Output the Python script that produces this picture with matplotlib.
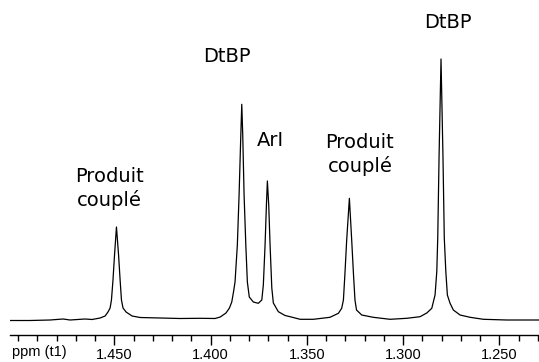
import matplotlib
matplotlib.use("Agg")
import matplotlib.pyplot as plt
from matplotlib.ticker import MultipleLocator, FixedLocator

# Spectrum trace (ppm, intensity)
ppm = [1.5042, 1.4938, 1.4834, 1.4766, 1.4730, 1.4652, 1.4616, 1.4574, 1.4548, 1.4533,
       1.4522, 1.4515, 1.4507, 1.4499, 1.4489, 1.4478, 1.4470, 1.4463, 1.4455, 1.4439,
       1.4408, 1.4366, 1.4263, 1.4159, 1.4055, 1.3977, 1.3950, 1.3920, 1.3902, 1.3890,
       1.3881, 1.3873, 1.3861, 1.3852, 1.3843, 1.3838, 1.3833, 1.3826, 1.3817, 1.3809,
       1.3799, 1.3778, 1.3752, 1.3734, 1.3726, 1.3717, 1.3710, 1.3705, 1.3698, 1.3691,
       1.3682, 1.3674, 1.3648, 1.3613, 1.3587, 1.3535, 1.3466, 1.3380, 1.3336, 1.3319,
       1.3310, 1.3302, 1.3293, 1.3279, 1.3267, 1.3258, 1.3250, 1.3242, 1.3215, 1.3155,
       1.3068, 1.2981, 1.2912, 1.2877, 1.2851, 1.2834, 1.2825, 1.2820, 1.2813, 1.2803,
       1.2793, 1.2786, 1.2778, 1.2770, 1.2756, 1.2739, 1.2704, 1.2652, 1.2583, 1.2462,
       1.2297]
intensity = [-0.5, -0.5, 0.0, 1.0, 0.0, 1.0, 0.5, 2.0, 4.0, 8.0,
             12.0, 20.0, 40.0, 65.0, 93.0, 65.0, 40.0, 20.0, 12.0, 8.0,
             4.0, 2.5, 2.0, 1.5, 1.7, 1.5, 3.0, 7.0, 12.0, 18.0,
             28.0, 38.0, 75.0, 125.0, 185.0, 215.7, 185.0, 125.0, 75.0, 38.0,
             23.0, 18.0, 16.7, 20.0, 35.0, 75.0, 115.0, 139.0, 115.0, 75.0,
             32.0, 17.0, 8.3, 4.5, 3.3, 0.7, 0.7, 2.7, 6.7, 11.7,
             20.0, 46.7, 80.0, 121.7, 80.0, 46.7, 20.0, 10.0, 5.0, 2.7,
             0.7, 1.7, 3.3, 7.0, 11.7, 25.0, 48.3, 82.0, 165.0, 261.0,
             165.0, 82.0, 48.3, 25.0, 16.7, 10.0, 5.0, 2.7, 0.7, 0.0,
             0.0]

# Peak annotations
labels = ["Produit\ncouplé", "DtBP", "ArI", "Produit\ncouplé", "DtBP"]
label_ppm = [1.4525, 1.3915, 1.3690, 1.3224, 1.2767]
label_int = [132, 264, 179, 165, 297]

major_ticks = [1.450, 1.400, 1.350, 1.300, 1.250]
major_labels = ["1.450", "1.400", "1.350", "1.300", "1.250"]

fig = plt.figure(figsize=(5.39, 3.62), dpi=100)
ax = fig.add_axes([10/539, 27/362, 529/539, 335/362])
ax.plot(ppm, intensity, color="black", lw=0.9)
ax.set_xlim(1.5042, 1.2294)
ax.set_ylim(-15, 320)

for s in ["top", "left", "right"]:
    ax.spines[s].set_visible(False)
ax.spines["bottom"].set_linewidth(1.0)
ax.set_yticks([])
ax.xaxis.set_major_locator(FixedLocator(major_ticks))
ax.set_xticklabels(major_labels, fontsize=10.5, family="Liberation Sans")
ax.xaxis.set_minor_locator(MultipleLocator(0.01))
ax.tick_params(axis="x", which="major", direction="out", length=7, width=1.0, pad=2.5)
ax.tick_params(axis="x", which="minor", direction="out", length=4, width=1.0)

for t, x, y in zip(labels, label_ppm, label_int):
    ax.text(x, y, t, ha="center", va="center", fontsize=14,
            family="DejaVu Sans", linespacing=1.25)

fig.text(12/539, 1 - 352/362, "ppm (t1)", ha="left", va="center",
         fontsize=10.5, family="Liberation Sans")

fig.savefig("out.png", dpi=100)
